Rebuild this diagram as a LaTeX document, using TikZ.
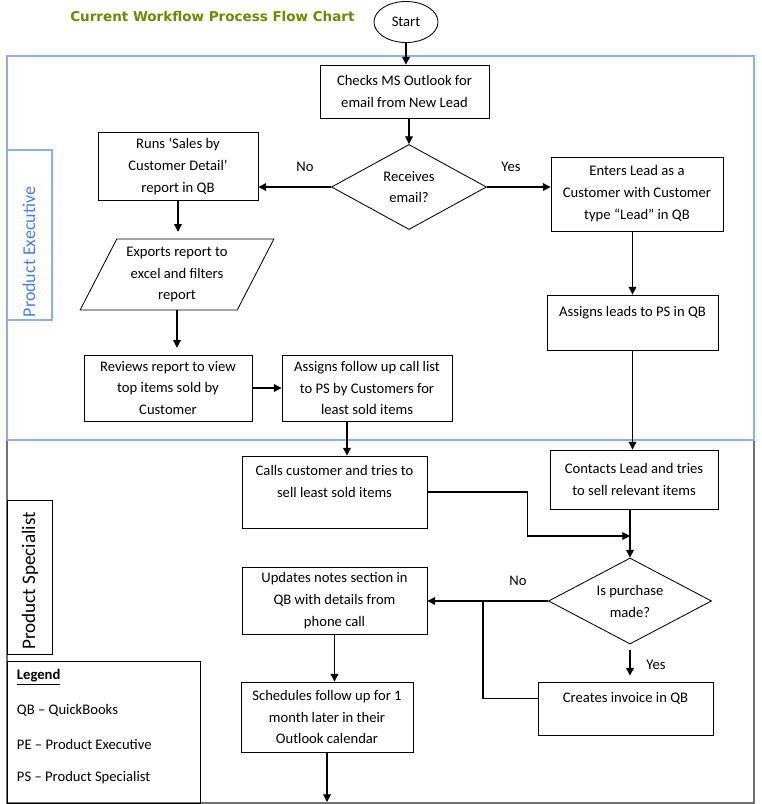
\documentclass[tikz,border=0pt]{standalone}
\usepackage{fontspec}
\setmainfont{Carlito}
\newfontfamily\titlefont{DejaVu Sans}
\usetikzlibrary{shapes.geometric,arrows.meta}
\definecolor{WFTitle}{HTML}{668C00}
\definecolor{WFLane}{HTML}{8DB1E6}
\definecolor{WFLaneText}{HTML}{4C7FDA}
\definecolor{WFGrey}{HTML}{707070}

\begin{document}
\begin{tikzpicture}[x=0.025cm,y=-0.025cm,
  font=\fontsize{10.4}{15.6}\selectfont,
  box/.style={draw,line width=.6pt,align=center,inner sep=0pt},
  dec/.style={draw,diamond,aspect=1.8,line width=.6pt,align=center,inner sep=0pt},
  arr/.style={line width=.8pt,-{Triangle[length=5.5pt,width=5.5pt]}},
  lnk/.style={line width=.8pt}]
\path[use as bounding box] (0,0) rectangle (762,804);
\fill[white] (0,0) rectangle (762,804);
% swim lanes
\draw[WFGrey,line width=.8pt] (7,440) rectangle (754,803);
\draw[WFLane,line width=.8pt] (7,56) rectangle (754,440);
\draw[WFLane,line width=.8pt] (7,150) rectangle (52,320);
\node[rotate=90,text=WFLaneText,font=\fontsize{12.8}{14}\selectfont] (pelbl) at (29,252) {Product Executive};
\draw[line width=.6pt] (7,500) rectangle (52,654);
\node[rotate=90,font=\fontsize{13.6}{15}\selectfont] (pslbl) at (30,581) {Product Specialist};
% legend
\draw[line width=.6pt] (7,661) rectangle (200,803);
\node[anchor=west] (lgd) at (12,677) {\textbf{\underline{Legend}}};
\node[anchor=west] (lqb) at (12,710) {QB -- QuickBooks};
\node[anchor=west] (lpe) at (12,744) {PE -- Product Executive};
\node[anchor=west] (lps) at (12,778) {PS -- Product Specialist};
% title
\node[anchor=west,inner sep=0pt,text=WFTitle] (title) at (70,16) {\titlefont\bfseries\fontsize{9.6}{11}\selectfont Current Workflow Process Flow Chart};
% flow
\node[draw,ellipse,line width=.6pt,minimum width=1.6cm,minimum height=1.025cm,inner sep=0pt] (start) at (406,22) {Start};
\node[box,minimum width=4.225cm,minimum height=1.325cm] (chk) at (404.5,91.5) {Checks MS Outlook for\\email from New Lead};
\node[dec,minimum width=3.875cm,minimum height=2.125cm] (rcv) at (409,187) {Receives\\email?};
\node[box,minimum width=4cm,minimum height=1.7cm] (runs) at (178,166) {Runs `Sales by\\Customer Detail'\\report in QB};
\node[draw,trapezium,trapezium left angle=61,trapezium right angle=119,trapezium stretches=true,line width=.6pt,align=center,inner sep=0pt,minimum width=4.85cm,minimum height=1.775cm] (exp) at (177,274.5) {Exports report to\\excel and filters\\report};
\node[box,minimum width=4.2cm,minimum height=1.65cm] (rev) at (168,388) {Reviews report to view\\top items sold by\\Customer};
\node[box,minimum width=4.25cm,minimum height=1.65cm] (asg) at (367,388) {Assigns follow up call list\\to PS by Customers for\\least sold items};
\node[box,minimum width=4.3cm,minimum height=1.85cm] (ent) at (637,194) {Enters Lead as a\\Customer with Customer\\type ``Lead'' in QB};
\node[box,minimum width=4.275cm,minimum height=1.375cm] (lds) at (632.5,322.5) {Assigns leads to PS in QB\\~};
\node[box,minimum width=4.2cm,minimum height=1.475cm] (cnt) at (634,479.5) {Contacts Lead and tries\\to sell relevant items};
\node[box,minimum width=4.625cm,minimum height=1.8cm] (cal) at (334.5,492) {Calls customer and tries to\\sell least sold items\\~};
\node[dec,minimum width=4.075cm,minimum height=2.15cm] (pur) at (630,601) {Is purchase\\made?};
\node[box,minimum width=4.625cm,minimum height=1.675cm] (upd) at (334.5,600.5) {Updates notes section in\\QB with details from\\phone call};
\node[box,minimum width=4.375cm,minimum height=1.325cm] (inv) at (625.5,708.5) {Creates invoice in QB\\~};
\node[box,minimum width=4.3cm,minimum height=1.75cm] (sch) at (327,717) {Schedules follow up for 1\\month later in their\\Outlook calendar};
\coordinate (mrg) at (630,536);
\coordinate (jn) at (483,601);
\coordinate (btm) at (335,802);
% connectors
\draw[arr] (start.south) -- (start.south |- chk.north);
\draw[arr] (rcv.north |- chk.south) -- (rcv.north);
\draw[arr] (rcv.west) -- (rcv.west -| runs.east);
\node (no1) at (305,167) {No};
\draw[arr] (rcv.east) -- (rcv.east -| ent.west);
\node (yes1) at (511,167) {Yes};
\draw[arr,shorten >=0.17cm] (runs.south) -- (runs.south |- exp.north);
\draw[arr,shorten >=0.17cm] (exp.south) -- (exp.south |- rev.north);
\draw[arr] (rev.east) -- (asg.west);
\draw[arr] ([xshift=-0.5cm]asg.south) -- ([xshift=-0.5cm]asg.south |- cal.north);
\draw[arr] (lds.north |- ent.south) -- (lds.north);
\draw[arr] (lds.south) -- (lds.south |- cnt.north);
\draw[arr] (pur.north |- cnt.south) -- (pur.north);
\draw[arr] (cal.east) -- ++(100,0) |- (mrg);
\draw[arr] (pur.west) -- (pur.west -| upd.east);
\node (no2) at (518,581) {No};
\draw[lnk] ([yshift=0.26cm]inv.west) -| (jn);
\draw[arr,shorten <=0.15cm,shorten >=0.15cm] (pur.south) -- (pur.south |- inv.north);
\node (yes2) at (656,665) {Yes};
\draw[arr] (upd.south) -- (upd.south |- sch.north);
\draw[arr] (sch.south) -- (sch.south |- btm);
\end{tikzpicture}
\end{document}
